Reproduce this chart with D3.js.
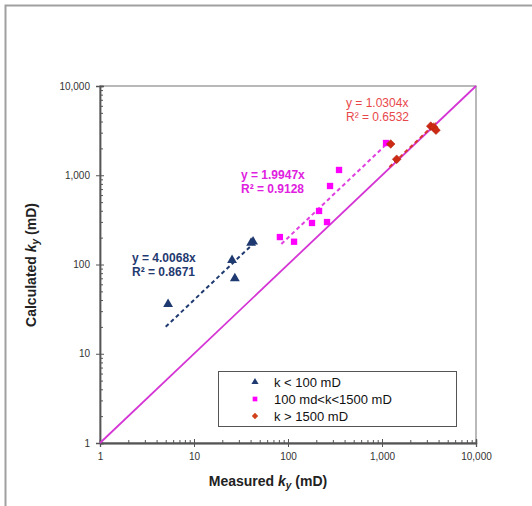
<!DOCTYPE html>
<html><head><meta charset="utf-8">
<script src="https://cdn.jsdelivr.net/npm/d3@7"></script>
<style>
body{margin:0;background:#fff;}
svg{display:block;font-family:"Liberation Sans",Arial,sans-serif;}
</style></head>
<body><svg id="c" width="532" height="506"></svg>
<script>
// ---- data ----
const lowKx = [5.3, 25.4, 27.2, 40.5, 42.5];
const lowKy = [36, 112, 70, 174, 180];
const midKx = [82, 116, 180, 214, 260, 280, 349, 1104];
const midKy = [203, 180, 292, 398, 299, 758, 1146, 2297];
const highKx = [1238, 1433, 3300, 3550, 3750];
const highKy = [2239, 1510, 3550, 3450, 3200];
const majorTicks = [1, 10, 100, 1000, 10000];
const majorLabels = ["1", "10", "100", "1,000", "10,000"];
const fitSlopes = [4.0068, 1.9947, 1.0304];
const fitR2 = ["0.8671", "0.9128", "0.6532"];
const fitRanges = [[5, 42], [85, 1150], [1200, 3750]];
const seriesNames = ["k < 100 mD", "100 md<k<1500 mD", "k > 1500 mD"];

const svg = d3.select("#c");
const x = d3.scaleLog().domain([1, 10000]).range([100, 476]);
const y = d3.scaleLog().domain([1, 10000]).range([443, 86]);

const colNavy = "#1f3a70", colMag = "#ff00ff", colRed = "#cc2a12";

// outer frame
svg.append("rect").attr("x",5.5).attr("y",5.5).attr("width",560).attr("height",560)
  .attr("fill","none").attr("stroke","#a0a0a0").attr("stroke-width",2);

// plot frame (top/right)
svg.append("rect").attr("x",100).attr("y",86).attr("width",376).attr("height",357)
  .attr("fill","none").attr("stroke","#8a8a8a").attr("stroke-width",1.2);

// minor ticks
const minors = [];
for (let d = 1; d < 10000; d *= 10) for (let m = 2; m <= 9; m++) minors.push(d*m);

const fmt = v => majorLabels[majorTicks.indexOf(v)];

const gx = svg.append("g").attr("transform","translate(0,443)");
gx.call(d3.axisBottom(x).tickValues(minors).tickSize(-3).tickFormat(""));
gx.append("g").call(d3.axisBottom(x).tickValues(majorTicks).tickSize(-4).tickFormat(""));
gx.append("g").call(d3.axisBottom(x).tickValues(majorTicks).tickSize(4).tickPadding(6).tickFormat(fmt));

const gy = svg.append("g").attr("transform","translate(100,0)");
gy.call(d3.axisLeft(y).tickValues(minors).tickSize(-3).tickFormat(""));
gy.append("g").call(d3.axisLeft(y).tickValues(majorTicks).tickSize(-4).tickFormat(""));
gy.append("g").call(d3.axisLeft(y).tickValues(majorTicks).tickSize(4).tickPadding(6).tickFormat(fmt));

svg.selectAll(".domain").attr("stroke","#555").attr("stroke-width",1.3);
svg.selectAll(".tick line").attr("stroke","#555");
svg.selectAll(".tick text").attr("font-size",10).attr("fill","#333")
  .attr("font-family","'Liberation Sans',Arial,sans-serif");

// 1:1 line
svg.append("line").attr("x1",x(1)).attr("y1",y(1)).attr("x2",x(10000)).attr("y2",y(10000))
  .attr("stroke","#d535d5").attr("stroke-width",1.8);

// fit lines
const fitCols = [colNavy, "#e040e0", "#d83a2a"];
fitSlopes.forEach((s,i)=>{
  const [a,b] = fitRanges[i];
  svg.append("line").attr("x1",x(a)).attr("y1",y(s*a)).attr("x2",x(b)).attr("y2",y(s*b))
    .attr("stroke",fitCols[i]).attr("stroke-width",2).attr("stroke-dasharray","4,3");
});

// markers
const tri = d3.symbol().type(d3.symbolTriangle).size(42);
const sq = d3.symbol().type(d3.symbolSquare).size(40);
const dia = d3.symbol().type(d3.symbolSquare).size(38);

svg.append("g").selectAll("path").data(lowKx).join("path")
  .attr("d",tri).attr("fill",colNavy)
  .attr("transform",(d,i)=>`translate(${x(d)},${y(lowKy[i])})`);
svg.append("g").selectAll("path").data(midKx).join("path")
  .attr("d",sq).attr("fill",colMag)
  .attr("transform",(d,i)=>`translate(${x(d)},${y(midKy[i])})`);
svg.append("g").selectAll("path").data(highKx).join("path")
  .attr("d",dia).attr("fill",colRed).attr("stroke","#b02010").attr("stroke-width",0.5)
  .attr("transform",(d,i)=>`translate(${x(d)},${y(highKy[i])}) rotate(45)`);

// fit annotations
const annos = [
  {x:132, y:262, col:"#1f3a70", w:"bold"},
  {x:241, y:179, col:"#e020e0", w:"bold"},
  {x:346, y:107, col:"#e8474a", w:"normal"}
];
annos.forEach((a,i)=>{
  const t = svg.append("text").attr("x",a.x).attr("y",a.y).attr("fill",a.col)
    .attr("font-size",12).attr("font-weight",a.w);
  t.append("tspan").attr("x",a.x).text(`y = ${fitSlopes[i].toFixed(4)}x`);
  t.append("tspan").attr("x",a.x).attr("dy",14).text(`R² = ${fitR2[i]}`);
});

// legend
svg.append("rect").attr("x",218.5).attr("y",371.5).attr("width",238).attr("height",55)
  .attr("fill","#fff").attr("stroke","#555").attr("stroke-width",1);
const legSyms = [
  d3.symbol().type(d3.symbolTriangle).size(22),
  d3.symbol().type(d3.symbolSquare).size(22),
  d3.symbol().type(d3.symbolSquare).size(20)
];
const legCols = [colNavy, colMag, "#d2401a"];
seriesNames.forEach((n,i)=>{
  const yy = 382 + i*17;
  svg.append("path").attr("d",legSyms[i]).attr("fill",legCols[i])
    .attr("transform",`translate(255,${yy})` + (i===2 ? " rotate(45)" : ""));
  svg.append("text").attr("x",274).attr("y",yy+5).attr("font-size",13)
    .attr("fill","#111").text(n);
});

// axis titles
const xt = svg.append("text").attr("x",268).attr("y",486).attr("text-anchor","middle")
  .attr("font-size",14).attr("font-weight","bold").attr("fill","#222");
xt.append("tspan").text("Measured ");
xt.append("tspan").attr("font-style","italic").text("k");
xt.append("tspan").attr("font-style","italic").attr("font-size",10).attr("dy",3).text("y");
xt.append("tspan").attr("dy",-3).text(" (mD)");

const yt = svg.append("text").attr("transform","translate(36,265) rotate(-90)")
  .attr("text-anchor","middle").attr("font-size",14).attr("font-weight","bold").attr("fill","#222");
yt.append("tspan").text("Calculated ");
yt.append("tspan").attr("font-style","italic").text("k");
yt.append("tspan").attr("font-style","italic").attr("font-size",10).attr("dy",3).text("y");
yt.append("tspan").attr("dy",-3).text(" (mD)");
</script></body></html>
